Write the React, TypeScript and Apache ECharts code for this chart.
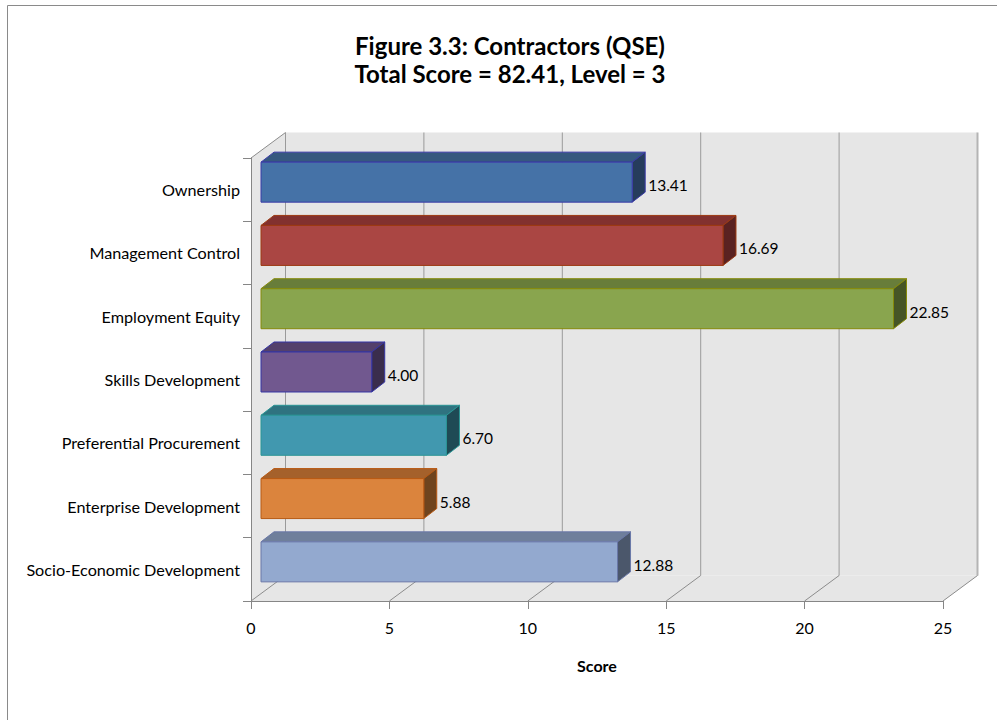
import React, { useEffect, useRef } from "react";
import * as echarts from "echarts";

const categories = [
  "Ownership",
  "Management Control",
  "Employment Equity",
  "Skills Development",
  "Preferential Procurement",
  "Enterprise Development",
  "Socio-Economic Development",
];
const scores = [13.41, 16.69, 22.85, 4.0, 6.7, 5.88, 12.88];
const xTicks = [0, 5, 10, 15, 20, 25];
const frontColors = ["#4572a7", "#aa4643", "#89a54e", "#71588f", "#4198af", "#db843d", "#93a9cf"];
const topColors = ["#36587f", "#82312f", "#687d3a", "#53406b", "#2f7380", "#a5612b", "#6f7f9b"];
const sideColors = ["#263c5c", "#5a2221", "#465526", "#3a2d4c", "#1f4a55", "#6f441e", "#4b576b"];
const borderColors = ["#3a3aa8", "#9c3a12", "#868a0a", "#3535a5", "#2a9595", "#b85a14", "#6a78a8"];

const FONT = "Lato, 'Open Sans', sans-serif";
const DEPTH_X = 34.5;
const DEPTH_Y = -25.5;

export default function App() {
  const ref = useRef<HTMLDivElement>(null);
  useEffect(() => {
    if (!ref.current) return;
    const chart = echarts.init(ref.current, null, { renderer: "svg" });
    const option: any = {
      animation: false,
      backgroundColor: "#ffffff",
      title: {
        text: "Figure 3.3: Contractors (QSE)\nTotal Score = 82.41, Level = 3",
        left: 505,
        top: 26,
        textAlign: "center",
        textStyle: { fontFamily: FONT, fontSize: 24, fontWeight: "bold", color: "#000", lineHeight: 28 },
      },
      graphic: [
        {
          type: "rect",
          shape: { x: 7.5, y: 5.5, width: 1100, height: 800 },
          style: { fill: "none", stroke: "#8a8a8a", lineWidth: 1 },
          silent: true,
        },
      ],
      grid: { left: 251, top: 158, width: 692, height: 443, containLabel: false },
      xAxis: {
        type: "value",
        min: 0,
        max: 25,
        interval: 5,
        z: 5,
        splitLine: { show: false },
        axisLine: { show: true, lineStyle: { color: "#868686", width: 1 } },
        axisTick: { show: true, length: 8, lineStyle: { color: "#868686" } },
        axisLabel: { fontFamily: FONT, fontSize: 16, color: "#000", margin: 18, formatter: (v: number) => (xTicks.includes(v) ? String(v) : "") },
        name: "Score",
        nameLocation: "middle",
        nameGap: 56,
        nameTextStyle: { fontFamily: FONT, fontSize: 16, fontWeight: "bold", color: "#000" },
      },
      yAxis: {
        type: "category",
        data: categories,
        inverse: true,
        z: 5,
        axisLine: { show: true, lineStyle: { color: "#868686", width: 1 } },
        axisTick: { show: true, length: 8, lineStyle: { color: "#868686" } },
        axisLabel: { fontFamily: FONT, fontSize: 16.2, color: "#000", margin: 11 },
        splitLine: { show: false },
      },
      series: [
        {
          type: "custom",
          z: 1,
          silent: true,
          data: [[0, 0]],
          encode: { x: 0, y: 1 },
          renderItem: (params: any, api: any) => {
            const cs = params.coordSys;
            const gx = cs.x, gy = cs.y, gw = cs.width, gh = cs.height;
            const fill = "#e6e6e6";
            const children: any[] = [
              {
                type: "polygon",
                shape: { points: [[gx, gy], [gx + DEPTH_X, gy + DEPTH_Y], [gx + DEPTH_X, gy + gh + DEPTH_Y], [gx, gy + gh]] },
                style: { fill, stroke: "none" },
              },
              {
                type: "rect",
                shape: { x: gx + DEPTH_X, y: gy + DEPTH_Y, width: gw, height: gh },
                style: { fill, stroke: "none" },
              },
              {
                type: "polygon",
                shape: { points: [[gx, gy + gh], [gx + DEPTH_X, gy + gh + DEPTH_Y], [gx + gw + DEPTH_X, gy + gh + DEPTH_Y], [gx + gw, gy + gh]] },
                style: { fill, stroke: "none" },
              },
              {
                type: "line",
                shape: { x1: gx, y1: gy, x2: gx + DEPTH_X, y2: gy + DEPTH_Y },
                style: { stroke: "#8c8c8c", lineWidth: 1 },
              },
            ];
            xTicks.forEach((t, i) => {
              const xv = api.coord([t, 0])[0];
              const last = i === xTicks.length - 1;
              children.push({
                type: "line",
                shape: { x1: xv + DEPTH_X, y1: gy + DEPTH_Y, x2: xv + DEPTH_X, y2: gy + gh + DEPTH_Y },
                style: { stroke: last ? "#b4b4b4" : "#9a9a9a", lineWidth: last ? 2 : 1 },
              });
              if (t !== 0) {
                children.push({
                  type: "line",
                  shape: { x1: xv, y1: gy + gh, x2: xv + DEPTH_X, y2: gy + gh + DEPTH_Y },
                  style: { stroke: "#8c8c8c", lineWidth: 1 },
                });
              }
            });
            children.push({
              type: "line",
              shape: { x1: gx, y1: gy + gh, x2: gx + DEPTH_X, y2: gy + gh + DEPTH_Y },
              style: { stroke: "#8c8c8c", lineWidth: 1 },
            });
            return { type: "group", children };
          },
        },
        {
          type: "custom",
          z: 2,
          data: scores.map((v, i) => [v, i]),
          encode: { x: 0, y: 1 },
          renderItem: (params: any, api: any) => {
            const v = api.value(0);
            const idx = api.value(1);
            const p = api.coord([v, idx]);
            const p0 = api.coord([0, idx]);
            const band = api.size([0, 1])[1];
            const h = band * 0.632;
            const fx = 10, fy = -7.5, bx = 13, by = -10;
            const x0 = p0[0] + fx;
            const x1 = p[0] + fx;
            const yc = p[1] + fy;
            const yt = yc - h / 2;
            const yb = yc + h / 2;
            const i = params.dataIndex;
            const border = borderColors[i];
            return {
              type: "group",
              children: [
                {
                  type: "polygon",
                  shape: { points: [[x0, yt], [x0 + bx, yt + by], [x1 + bx, yt + by], [x1, yt]] },
                  style: { fill: topColors[i], stroke: border, lineWidth: 1 },
                },
                {
                  type: "polygon",
                  shape: { points: [[x1, yt], [x1 + bx, yt + by], [x1 + bx, yb + by], [x1, yb]] },
                  style: { fill: sideColors[i], stroke: border, lineWidth: 1 },
                },
                {
                  type: "rect",
                  shape: { x: x0, y: yt, width: x1 - x0, height: h },
                  style: { fill: frontColors[i], stroke: border, lineWidth: 1 },
                },
                {
                  type: "text",
                  style: {
                    text: v.toFixed(2),
                    x: x1 + bx + 3,
                    y: yc + 3,
                    verticalAlign: "middle",
                    align: "left",
                    fontFamily: FONT,
                    fontSize: 15.5,
                    fill: "#000",
                  },
                },
              ],
            };
          },
        },
      ],
    };
    chart.setOption(option);
    return () => chart.dispose();
  }, []);
  return <div ref={ref} style={{ position: "fixed", left: 0, top: 0, width: 997, height: 720 }} />;
}
